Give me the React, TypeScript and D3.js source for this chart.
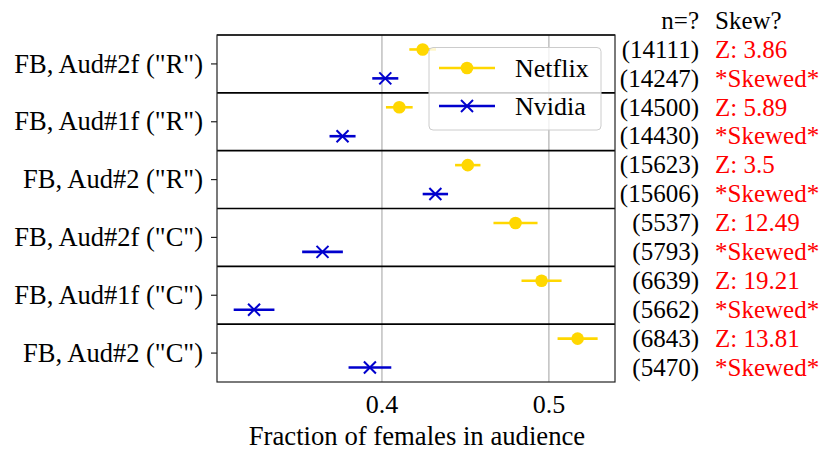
import React from "react";
import * as d3 from "d3";

const categories = [
  'FB, Aud#2f ("R")',
  'FB, Aud#1f ("R")',
  'FB, Aud#2 ("R")',
  'FB, Aud#2f ("C")',
  'FB, Aud#1f ("C")',
  'FB, Aud#2 ("C")',
];
const netflix = [0.4244, 0.4104, 0.4514, 0.48, 0.4956, 0.5172];
const netflixErr = [0.008, 0.008, 0.0076, 0.0132, 0.012, 0.012];
const nvidia = [0.402, 0.3764, 0.432, 0.3644, 0.3234, 0.3928];
const nvidiaErr = [0.0078, 0.0078, 0.0076, 0.0122, 0.0122, 0.0128];
const netflixN = [14111, 14500, 15623, 5537, 6639, 6843];
const nvidiaN = [14247, 14430, 15606, 5793, 5662, 5470];
const zScores = ["3.86", "5.89", "3.5", "12.49", "19.21", "13.81"];
const verdicts = ["*Skewed*", "*Skewed*", "*Skewed*", "*Skewed*", "*Skewed*", "*Skewed*"];
const xTicks = [0.4, 0.5];
const seriesNames = ["Netflix", "Nvidia"];

const W = 831;
const H = 464;
const L = 217;
const R = 615;
const T = 35;
const B = 382;
const GOLD = "#FFD700";
const BLUE = "#0000CD";
const FONT = '"Liberation Serif", "Tinos", "Times New Roman"';

export default function App() {
  const x = d3.scaleLinear().domain([0.3012, 0.5396]).range([L, R]);
  const y = d3.scaleLinear().domain([-0.5, categories.length - 0.5]).range([T, B]);
  const off = 0.25;

  const cross = (cx: number, cy: number, s: number, color: string, key: string) => (
    <g key={key} stroke={color} strokeWidth={2}>
      <line x1={cx - s} y1={cy - s} x2={cx + s} y2={cy + s} />
      <line x1={cx - s} y1={cy + s} x2={cx + s} y2={cy - s} />
    </g>
  );

  const ts = { fontFamily: FONT };

  return (
    <svg width={W} height={H} style={{ position: "absolute", left: 0, top: 0, background: "#fff", fontFamily: FONT }}>
      <rect x={0} y={0} width={W} height={H} fill="#fff" />
      {xTicks.map((t) => (
        <line key={"g" + t} x1={x(t)} x2={x(t)} y1={T} y2={B} stroke="#b0b0b0" strokeWidth={1.2} />
      ))}
      {d3.range(categories.length).map((i) => (
        <line key={"s" + i} x1={L} x2={R} y1={y(i - 0.5)} y2={y(i - 0.5)} stroke="#000" strokeWidth={1.6} />
      ))}
      <rect x={L} y={T} width={R - L} height={B - T} fill="none" stroke="#222" strokeWidth={1.2} />
      {categories.map((c, i) => (
        <g key={"yt" + i}>
          <line x1={L - 6} x2={L} y1={y(i)} y2={y(i)} stroke="#222" strokeWidth={1.2} />
          <text x={L - 14} y={y(i)} dy="0.33em" textAnchor="end" fontSize={26.5} fill="#000" style={ts}>
            {c}
          </text>
        </g>
      ))}
      {xTicks.map((t) => (
        <text key={"xt" + t} x={x(t)} y={413} textAnchor="middle" fontSize={26} fill="#000" style={ts}>
          {t.toFixed(1)}
        </text>
      ))}
      <text x={(L + R) / 2 + 1} y={445} textAnchor="middle" fontSize={26.7} fill="#000" style={ts}>
        Fraction of females in audience
      </text>
      {netflix.map((v, i) => {
        const cy = y(i - off);
        return (
          <g key={"nf" + i}>
            <line x1={x(v - netflixErr[i])} x2={x(v + netflixErr[i])} y1={cy} y2={cy} stroke={GOLD} strokeWidth={2.6} />
            <circle cx={x(v)} cy={cy} r={6.3} fill={GOLD} />
          </g>
        );
      })}
      {nvidia.map((v, i) => {
        const cy = y(i + off);
        return (
          <g key={"nv" + i}>
            <line x1={x(v - nvidiaErr[i])} x2={x(v + nvidiaErr[i])} y1={cy} y2={cy} stroke={BLUE} strokeWidth={2.6} />
            {cross(x(v), cy, 6, BLUE, "c" + i)}
          </g>
        );
      })}
      <g>
        <rect x={429} y={47.5} width={172} height={82.5} rx={4} fill="#fff" fillOpacity={0.8} stroke="#cccccc" strokeWidth={1} />
        <line x1={439} x2={495} y1={68} y2={68} stroke={GOLD} strokeWidth={2.6} />
        <circle cx={467} cy={68} r={6.3} fill={GOLD} />
        <text x={515} y={68} dy="0.33em" fontSize={26} fill="#000" style={ts}>{seriesNames[0]}</text>
        <line x1={439} x2={495} y1={106} y2={106} stroke={BLUE} strokeWidth={2.6} />
        {cross(467, 106, 6, BLUE, "lc")}
        <text x={515} y={106} dy="0.33em" fontSize={26} fill="#000" style={ts}>{seriesNames[1]}</text>
      </g>
      <text x={699} y={29} textAnchor="end" fontSize={25} fill="#000" style={ts}>n=?</text>
      <text x={715} y={29} fontSize={25} fill="#000" style={ts}>Skew?</text>
      {categories.map((_, i) => (
        <g key={"ann" + i}>
          <text x={699} y={y(i - off)} dy="0.33em" textAnchor="end" fontSize={25} fill="#000" style={ts}>
            ({netflixN[i]})
          </text>
          <text x={699} y={y(i + off)} dy="0.33em" textAnchor="end" fontSize={25} fill="#000" style={ts}>
            ({nvidiaN[i]})
          </text>
          <text x={715} y={y(i - off)} dy="0.33em" fontSize={25} fill="#ff0000" style={ts}>
            Z: {zScores[i]}
          </text>
          <text x={715} y={y(i + off)} dy="0.33em" fontSize={25} fill="#ff0000" style={ts}>
            {verdicts[i]}
          </text>
        </g>
      ))}
    </svg>
  );
}
